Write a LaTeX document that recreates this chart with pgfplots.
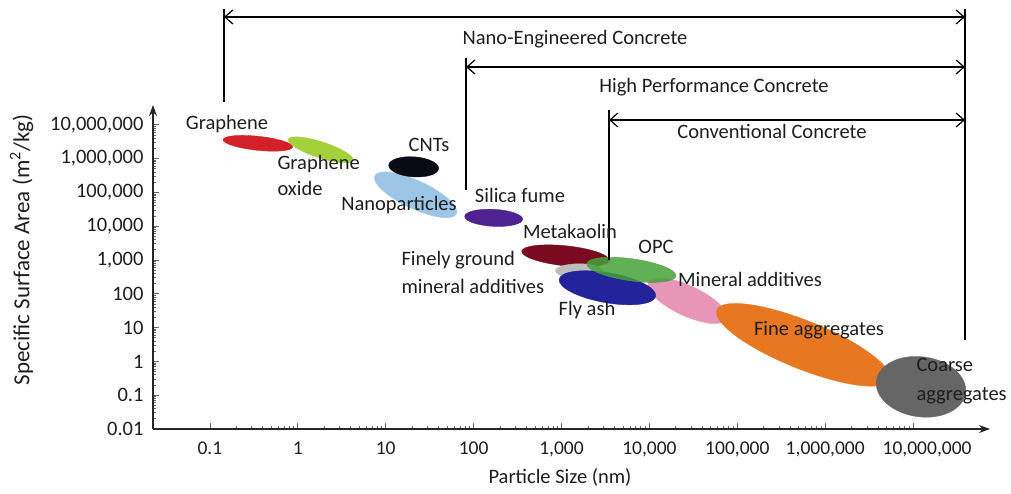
\documentclass[border=0pt]{standalone}
\usepackage{pgfplots}
\pgfplotsset{compat=1.18}
\usepackage{pgfplotstable}
\usepackage{fontspec}
\setmainfont{Carlito}
\usetikzlibrary{arrows.meta, calc}

\definecolor{c0}{HTML}{D22128}% graphene
\definecolor{c1}{HTML}{A2D13A}% graphene oxide
\definecolor{c2}{HTML}{9DC6E6}% nanoparticles
\definecolor{c3}{HTML}{0A0A14}% CNTs
\definecolor{c4}{HTML}{4E2290}% silica fume
\definecolor{c5}{HTML}{7A0A20}% metakaolin
\definecolor{c6}{HTML}{BDBDBD}% finely ground
\definecolor{c7}{HTML}{E896B8}% mineral additives
\definecolor{c8}{HTML}{22229A}% fly ash
\definecolor{c9}{HTML}{45A238}% OPC
\definecolor{c10}{HTML}{E87722}% fine aggregates
\definecolor{c11}{HTML}{666666}% coarse aggregates
\definecolor{txt}{HTML}{1E1E1E}

\pgfdeclareplotmark{blank}{}

% centre (x, y), half axes in pt, tilt in degrees, colour id, opacity
\pgfplotstableread{
x y rx ry ang id op
0.351 2.84e6 35 7 -6 0 1
1.82 1.82e6 34 8 -18 1 1
21.9 8.5e4 45 14 -25 2 1
20.8 5.71e5 25 10 -4 3 1
169 1.77e4 29 8.5 -3 4 1
1110 1330 44 10 -6 5 1
1600 479 24 7 0 6 1
27000 62 43 15 -25 7 1
3330 151 49 15 -10 8 1
6240 513 45 11 -8 9 0.85
5.62e5 3.1 93 24 -22 10 1
1.23e7 0.177 45 30 -8 11 1
}\ellipses

\begin{document}
\begin{tikzpicture}[font=\fontsize{20.5}{24}\selectfont]
\begin{axis}[
  scale only axis, width=837pt, height=324pt,
  xmode=log, ymode=log,
  xmin=0.0225, xmax=7.5e7, ymin=0.01, ymax=3.86e7,
  axis lines=left,
  axis line style={black!85, line width=1.1pt, -{Stealth[length=11pt,width=8pt]}},
  xtick={0.1,1,10,100,1000,10000,100000,1000000,10000000},
  xticklabels={0.1,1,10,100,{1,000},{10,000},{100,000},{1,000,000},{\hspace*{28pt}10,000,000}},
  ytick={0.01,0.1,1,10,100,1000,10000,100000,1000000,10000000},
  yticklabels={0.01,0.1,1,10,100,{1,000},{10,000},{100,000},{1,000,000},{10,000,000}},
  minor tick num=0,
  tick align=inside, major tick length=6pt,
  tick style={black!60, line width=0.8pt},
  ticklabel style={text=txt},
  xticklabel style={font=\fontsize{19.5}{23}\selectfont, yshift=-9pt},
  yticklabel style={font=\fontsize{20.5}{24}\selectfont, xshift=-6pt},
  /pgf/number format/assume math mode=true,
  clip=false,
]
\addplot[scatter, only marks, mark=blank,
  visualization depends on={\thisrow{rx}\as\erx},
  visualization depends on={\thisrow{ry}\as\ery},
  visualization depends on={\thisrow{ang}\as\eang},
  visualization depends on={\thisrow{id}\as\eid},
  visualization depends on={\thisrow{op}\as\eop},
  scatter/@pre marker code/.code={%
    \pgfmathtruncatemacro\k{\eid}%
    \begin{scope}
      \pgftransformrotate{\eang}%
      \fill[c\k, fill opacity=\eop] (0pt,0pt) ellipse [x radius=\erx pt, y radius=\ery pt];
    \end{scope}},
  scatter/@post marker code/.code={},
] table[x=x, y=y] {\ellipses};
\coordinate (O) at (rel axis cs:0,0);
\end{axis}

\begin{scope}[shift={($(O)+(-153pt,429pt)$)}, x=1pt, y=-1pt, text=txt]
  % ranges of concrete types
  \draw[line width=1.2pt] (224,9) -- (224,102);
  \draw[line width=1.2pt] (466,58) -- (466,190);
  \draw[line width=1.2pt] (609,110) -- (609,260);
  \draw[line width=1.2pt] (965,9) -- (965,340);
  \draw[line width=1.2pt, {Straight Barb[length=8pt,width=14pt]}-{Straight Barb[length=8pt,width=14pt]}] (224,17) -- (965,17);
  \draw[line width=1.2pt, {Straight Barb[length=8pt,width=14pt]}-{Straight Barb[length=8pt,width=14pt]}] (466,67) -- (965,67);
  \draw[line width=1.2pt, {Straight Barb[length=8pt,width=14pt]}-{Straight Barb[length=8pt,width=14pt]}] (609,120) -- (965,120);
  \node[anchor=mid] at (575,42) {Nano-Engineered Concrete};
  \node[anchor=mid] at (714,90) {High Performance Concrete};
  \node[anchor=mid] at (772,136) {Conventional Concrete};
  % material labels
  \node[anchor=mid] at (227,127) {Graphene};
  \node[anchor=mid west] at (274,167) {Graphene};
  \node[anchor=mid west] at (274,193) {oxide};
  \node[anchor=mid] at (429,149) {CNTs};
  \node[anchor=mid] at (399,208) {Nanoparticles};
  \node[anchor=mid] at (520,200) {Silica fume};
  \node[anchor=mid] at (570,236) {Metakaolin};
  \node[anchor=mid west] at (398,263) {Finely ground};
  \node[anchor=mid west] at (398,291) {mineral additives};
  \node[anchor=mid] at (656,251) {OPC};
  \node[anchor=mid] at (587,313) {Fly ash};
  \node[anchor=mid] at (750,284) {Mineral additives};
  \node[anchor=mid] at (819,333) {Fine aggregates};
  \node[anchor=mid west] at (913,369) {Coarse};
  \node[anchor=mid west] at (913,398) {aggregates};
  % axis titles
  \node[anchor=mid] at (560,481) {Particle Size (nm)};
  \node[anchor=mid, rotate=90, font=\fontsize{23}{26}\selectfont] at (27,250) {Specific Surface Area (m\textsuperscript{2}/kg)};
  \pgfresetboundingbox
  \useasboundingbox (0,0) rectangle (1011,493);
\end{scope}
\end{tikzpicture}
\end{document}
